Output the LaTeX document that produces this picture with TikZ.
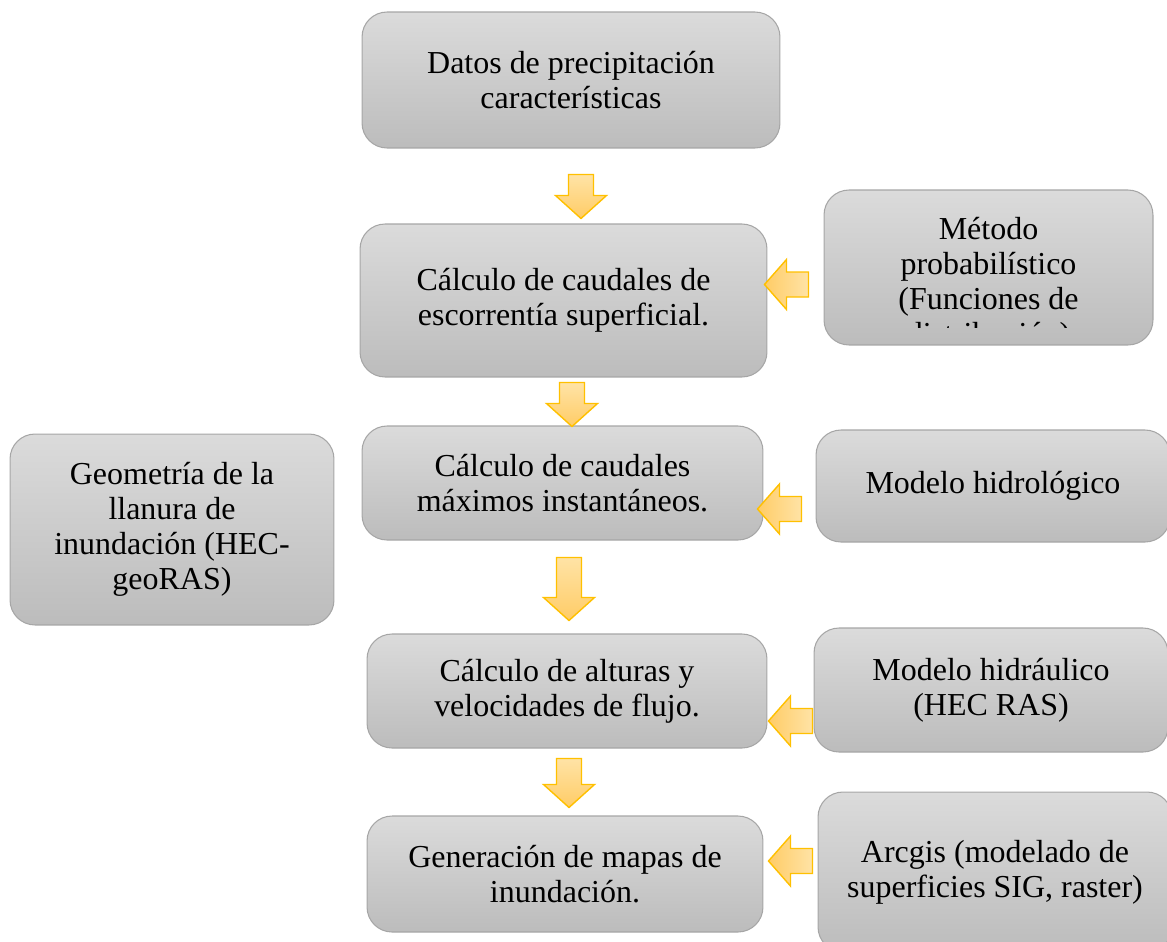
\documentclass[tikz,border=0pt]{standalone}
\usepackage{fontspec}
\setmainfont{Liberation Serif}
\usetikzlibrary{calc}
\definecolor{boxtop}{HTML}{DBDBDB}
\definecolor{boxbottom}{HTML}{BCBCBC}
\definecolor{boxline}{HTML}{A6A6A6}
\definecolor{arrowline}{HTML}{FFC000}
\definecolor{arrowlight}{HTML}{FFE3A6}
\definecolor{arrowdark}{HTML}{FFCC66}

\begin{document}
\begin{tikzpicture}[x=0.02cm, y=-0.02cm, flowbox/.style={rectangle, rounded corners=0.5cm, draw=boxline, line width=0.6pt, top color=boxtop, bottom color=boxbottom, align=center, inner sep=0pt, font=\fontsize{18.2}{19.9}\selectfont}, boxtext/.style={align=center, inner sep=0pt, font=\fontsize{18.2}{19.9}\selectfont}, pics/downblock/.style={code={\draw[draw=arrowline, line width=0.8pt, top color=arrowlight, bottom color=arrowdark] (0,0) -- (-25.5,-23) -- (-12.5,-23) -- (-12.5,-#1) -- (12.5,-#1) -- (12.5,-23) -- (25.5,-23) -- cycle;}}, pics/leftblock/.style={code={\draw[draw=arrowline, line width=0.8pt, left color=arrowdark, right color=arrowlight] (0,0) -- (22,-25) -- (22,-12.5) -- (44,-12.5) -- (44,12.5) -- (22,12.5) -- (22,25) -- cycle;}}]

\useasboundingbox (0,0) rectangle (1167,941);
\clip (0,0) rectangle (1167,941);

\node(datos) [flowbox, minimum width=8.36cm, minimum height=2.72cm] at (571,80) {Datos de precipitación\\características};

\node(escorrentia) [flowbox, minimum width=8.14cm, minimum height=3.06cm] at (563.5,300.5) {Cálculo de caudales de\\escorrentía superficial.};

\node(metodo) [flowbox, minimum width=6.58cm, minimum height=3.1cm] at (988.5,267.5) {};

\node(maximos) [flowbox, minimum width=8.02cm, minimum height=2.28cm] at (562.5,483) {Cálculo de caudales\\máximos instantáneos.};

\node(hidrologico) [flowbox, minimum width=7.08cm, minimum height=2.24cm] at (993,486) {Modelo hidrológico};

\node(geometria) [flowbox, minimum width=6.48cm, minimum height=3.82cm] at (172,529.5) {Geometría de la\\llanura de\\inundación (HEC-\\geoRAS)};

\node(alturas) [flowbox, minimum width=8cm, minimum height=2.28cm] at (567,691) {Cálculo de alturas y\\velocidades de flujo.};

\node(hidraulico) [flowbox, minimum width=7.08cm, minimum height=2.48cm] at (991,690) {Modelo hidráulico\\(HEC RAS)};

\node(generacion) [flowbox, minimum width=7.92cm, minimum height=2.32cm] at (565,874) {Generación de mapas de\\inundación.};

\node(arcgis) [flowbox, minimum width=7.08cm, minimum height=3.2cm] at (995,872) {Arcgis (modelado de\\superficies SIG, raster)};

\begin{scope}
\clip (metodo.north west) rectangle ($(metodo.south east)+(0,-18)$);
\node(metodotext) [boxtext] at ($(metodo.center)+(0,17)$) {Método\\probabilístico\\(Funciones de\\distribución)};
\end{scope}

\pic at ($(escorrentia.north)+(17.5,-5)$) {downblock=44};
\pic at ($(maximos.north)+(9.5,1)$) {downblock=44};
\pic at ($(alturas.north)+(2,-13)$) {downblock=63};
\pic at ($(generacion.north)+(4,-8)$) {downblock=49};

\pic at ($(escorrentia.east)+(-3,-16)$) {leftblock};
\pic at ($(maximos.east)+(-6,26)$) {leftblock};
\pic at ($(alturas.east)+(1,30)$) {leftblock};
\pic at ($(generacion.east)+(5,-13)$) {leftblock};
\end{tikzpicture}
\end{document}
